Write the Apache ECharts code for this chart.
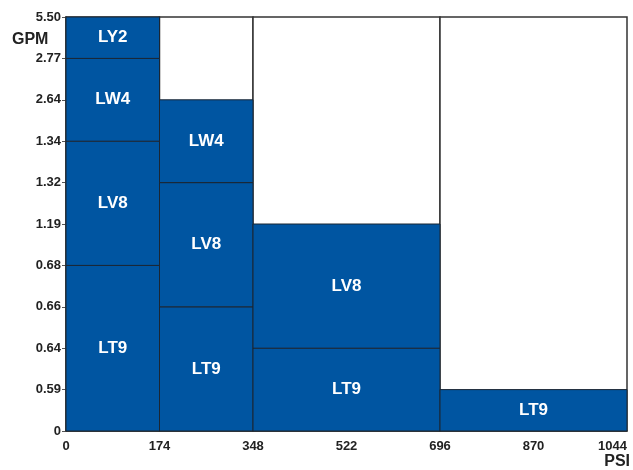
<!DOCTYPE html>
<html>
<head>
<meta charset="utf-8">
<script src="https://cdn.jsdelivr.net/npm/echarts@6/dist/echarts.min.js"></script>
<style>
  html, body { margin: 0; padding: 0; background: #fff; }
  #main { width: 633px; height: 470px; }
</style>
</head>
<body>
<div id="main"></div>
<script>
// PSI ticks on x, GPM ticks on y (drawn evenly spaced, one step per label)
const psiTicks = [0, 174, 348, 522, 696, 870, 1044];
const gpmTicks = ['0', '0.59', '0.64', '0.66', '0.68', '1.19', '1.32', '1.34', '2.64', '2.77', '5.50'];

// columns of the chart (PSI ranges)
const colStart = [0, 174, 348, 696];
const colEnd = [174, 348, 696, 1044];

// model names, stacked bottom to top
const models = ['LT9', 'LV8', 'LW4', 'LY2'];

// top GPM of each block in each column
const colTops = [
  ['0.68', '1.34', '2.77', '5.50'],
  ['0.66', '1.32', '2.64'],
  ['0.64', '1.19'],
  ['0.59']
];

const blue = '#0055a1';

// white column boxes
const boxData = colStart.map(function (s, i) {
  return [s, colEnd[i], 0, gpmTicks.length - 1];
});

// blue blocks
const blockData = [];
colTops.forEach(function (tops, c) {
  let bottom = 0;
  tops.forEach(function (t, k) {
    const top = gpmTicks.indexOf(t);
    blockData.push({ name: models[k], value: [colStart[c], colEnd[c], bottom, top] });
    bottom = top;
  });
});

function renderBox(params, api) {
  const p0 = api.coord([api.value(0), api.value(2)]);
  const p1 = api.coord([api.value(1), api.value(3)]);
  return {
    type: 'rect',
    shape: { x: p0[0], y: p1[1], width: p1[0] - p0[0], height: p0[1] - p1[1] },
    style: { fill: '#fff', stroke: '#333', lineWidth: 1.5 }
  };
}

function renderBlock(params, api) {
  const p0 = api.coord([api.value(0), api.value(2)]);
  const p1 = api.coord([api.value(1), api.value(3)]);
  const name = blockData[params.dataIndex].name;
  return {
    type: 'group',
    children: [
      {
        type: 'rect',
        shape: { x: p0[0], y: p1[1], width: p1[0] - p0[0], height: p0[1] - p1[1] },
        style: { fill: blue, stroke: '#1b2633', lineWidth: 1 }
      },
      {
        type: 'text',
        x: (p0[0] + p1[0]) / 2,
        y: (p0[1] + p1[1]) / 2,
        style: {
          text: name,
          fill: '#fff',
          font: 'bold 17px "Liberation Sans", Arial, sans-serif',
          align: 'center',
          verticalAlign: 'middle'
        }
      }
    ]
  };
}

const chart = echarts.init(document.getElementById('main'));

const option = {
  animation: false,
  backgroundColor: '#fff',
  grid: { left: 66, right: 6, top: 17, bottom: 39, outerBoundsMode: 'none', containLabel: false },
  xAxis: {
    type: 'value',
    min: 0,
    max: 1044,
    interval: 174,
    axisLine: { show: true, lineStyle: { color: '#333', width: 1.5 } },
    axisTick: { show: false },
    splitLine: { show: false },
    axisLabel: {
      color: '#222',
      fontWeight: 'bold',
      fontSize: 13,
      fontFamily: '"Liberation Sans", Arial, sans-serif',
      margin: 9,
      alignMaxLabel: 'right',
      formatter: function (v) { return psiTicks.indexOf(v) >= 0 ? String(v) : ''; }
    }
  },
  yAxis: {
    type: 'value',
    min: 0,
    max: gpmTicks.length - 1,
    interval: 1,
    axisLine: { show: true, lineStyle: { color: '#777', width: 2 } },
    axisTick: { show: true, length: 4, lineStyle: { color: '#555' } },
    splitLine: { show: false },
    axisLabel: {
      color: '#222',
      fontWeight: 'bold',
      fontSize: 13,
      fontFamily: '"Liberation Sans", Arial, sans-serif',
      margin: 5,
      formatter: function (v) { return gpmTicks[v]; }
    }
  },
  graphic: [
    {
      type: 'text', left: 12, top: 32,
      style: { text: 'GPM', fill: '#222', font: 'bold 16px "Liberation Sans", Arial, sans-serif' }
    },
    {
      type: 'text', right: 3, top: 454,
      style: { text: 'PSI', fill: '#222', font: 'bold 16px "Liberation Sans", Arial, sans-serif' }
    }
  ],
  series: [
    {
      type: 'custom',
      renderItem: renderBox,
      encode: { x: [0, 1], y: [2, 3] },
      data: boxData,
      z: 1
    },
    {
      type: 'custom',
      renderItem: renderBlock,
      encode: { x: [0, 1], y: [2, 3] },
      data: blockData,
      z: 2
    }
  ]
};

chart.setOption(option);
</script>
</body>
</html>
